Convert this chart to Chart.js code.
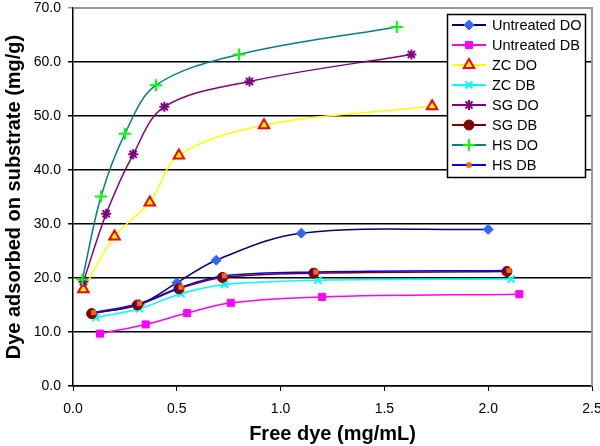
<!DOCTYPE html>
<html>
<head>
<meta charset="utf-8">
<script src="https://cdn.jsdelivr.net/npm/chart.js@4/dist/chart.umd.min.js"></script>
<style>
  html, body { margin: 0; padding: 0; background: #fff; }
  #wrap { width: 600px; height: 446px; }
</style>
</head>
<body>
<div id="wrap"><canvas id="myChart"></canvas></div>
<script>
// series data, [free dye, dye adsorbed]
const untreatedDO = [[0.09, 13.5], [0.32, 15.1], [0.50, 19.1], [0.69, 23.3], [1.10, 28.3], [2.00, 29.0]];
const untreatedDB = [[0.13, 9.7], [0.35, 11.4], [0.55, 13.5], [0.76, 15.4], [1.20, 16.5], [2.15, 17.0]];
const zcDO = [[0.05, 17.9], [0.20, 27.7], [0.37, 34.0], [0.51, 42.7], [0.92, 48.3], [1.73, 51.8]];
const zcDB = [[0.11, 12.7], [0.32, 14.3], [0.52, 17.1], [0.73, 18.8], [1.18, 19.6], [2.11, 19.8]];
const sgDO = [[0.05, 19.3], [0.16, 31.9], [0.29, 42.9], [0.44, 51.7], [0.85, 56.4], [1.63, 61.4]];
const sgDB = [[0.09, 13.4], [0.31, 15.0], [0.51, 18.0], [0.72, 20.1], [1.16, 20.9], [2.09, 21.2]];
const hsDO = [[0.045, 19.7], [0.135, 35.1], [0.25, 46.7], [0.40, 55.7], [0.80, 61.4], [1.56, 66.5]];
const hsDB = [[0.10, 13.6], [0.32, 15.3], [0.52, 18.3], [0.73, 20.4], [1.17, 21.1], [2.10, 21.4]];

const seriesNames = ['Untreated DO', 'Untreated DB', 'ZC DO', 'ZC DB', 'SG DO', 'SG DB', 'HS DO', 'HS DB'];
const seriesData = [untreatedDO, untreatedDB, zcDO, zcDB, sgDO, sgDB, hsDO, hsDB];
const yTicks = [0, 10, 20, 30, 40, 50, 60, 70];

const styles = [
  { line: '#000080', fill: '#3366FF', stroke: '#3366FF', shape: 'rectRot', r: 5 },
  { line: '#FF00FF', fill: '#FF00FF', stroke: '#FF00FF', shape: 'rect', r: 5 },
  { line: '#FFFF00', fill: '#FFFF00', stroke: '#FF0000', shape: 'triangle', r: 6, bw: 2 },
  { line: '#00FFFF', fill: '#00FFFF', stroke: '#00FFFF', shape: 'crossRot', r: 5, bw: 2 },
  { line: '#800080', fill: '#800080', stroke: '#800080', shape: 'star', r: 5, bw: 2 },
  { line: '#800000', fill: '#800000', stroke: '#800000', shape: 'circle', r: 5 },
  { line: '#008080', fill: '#00FF00', stroke: '#00FF00', shape: 'cross', r: 6, bw: 2 },
  { line: '#0000FF', fill: '#FF6600', stroke: '#FF6600', shape: 'rect', r: 3 }
];

const FONT = "'Liberation Sans', Arial, sans-serif";

const datasets = seriesData.map((pts, i) => ({
  label: seriesNames[i],
  data: pts.map(p => ({ x: p[0], y: p[1] })),
  showLine: true,
  borderColor: styles[i].line,
  borderWidth: 1.5,
  tension: 0.35,
  pointStyle: styles[i].shape,
  pointRadius: styles[i].r,
  pointBackgroundColor: styles[i].fill,
  pointBorderColor: styles[i].stroke,
  pointBorderWidth: styles[i].bw || 1,
  order: seriesData.length - i
}));

// gray top and right border of the plot
const frame = {
  id: 'frame',
  beforeDatasetsDraw(chart) {
    const a = chart.chartArea;
    const ctx = chart.ctx;
    ctx.save();
    ctx.strokeStyle = '#999';
    ctx.lineWidth = 2;
    ctx.beginPath();
    ctx.moveTo(a.left, a.top);
    ctx.lineTo(a.right, a.top);
    ctx.lineTo(a.right, a.bottom);
    ctx.stroke();
    ctx.restore();
  }
};

// boxed legend inside the plot
const legendBox = {
  id: 'legendBox',
  afterDraw(chart) {
    const ctx = chart.ctx;
    ctx.save();
    ctx.fillStyle = '#fff';
    ctx.fillRect(447, 14, 138, 164);
    ctx.strokeStyle = '#000';
    ctx.lineWidth = 1.5;
    ctx.strokeRect(447.5, 14.5, 138, 163);
    chart.data.datasets.forEach((ds, i) => {
      const y = 25 + i * 20;
      ctx.strokeStyle = ds.borderColor;
      ctx.lineWidth = 2;
      ctx.beginPath();
      ctx.moveTo(452, y);
      ctx.lineTo(486, y);
      ctx.stroke();
      ctx.fillStyle = ds.pointBackgroundColor;
      ctx.strokeStyle = ds.pointBorderColor;
      ctx.lineWidth = ds.pointBorderWidth;
      Chart.helpers.drawPoint(ctx, {
        pointStyle: ds.pointStyle,
        radius: ds.pointRadius,
        borderWidth: ds.pointBorderWidth,
        rotation: 0
      }, 469, y);
      ctx.fillStyle = '#000';
      ctx.font = '14.5px ' + FONT;
      ctx.textBaseline = 'middle';
      ctx.fillText(ds.label, 492, y + 1);
    });
    ctx.restore();
  }
};

new Chart(document.getElementById('myChart'), {
  type: 'scatter',
  data: { datasets: datasets },
  plugins: [frame, legendBox],
  options: {
    responsive: true,
    maintainAspectRatio: false,
    animation: false,
    layout: { padding: { top: 7, right: 8, left: 0, bottom: 0 } },
    plugins: {
      legend: { display: false },
      tooltip: { enabled: false }
    },
    scales: {
      x: {
        min: 0,
        max: 2.5,
        afterFit: s => { s.height = 60; s.paddingLeft = 0; s.paddingRight = 0; },
        ticks: {
          stepSize: 0.5,
          color: '#000',
          font: { family: FONT, size: 14 },
          padding: 10,
          callback: v => v.toFixed(1)
        },
        grid: { drawOnChartArea: false, color: '#000', tickLength: 5 },
        border: { color: '#000', width: 1.5 },
        title: {
          display: true,
          text: 'Free dye (mg/mL)',
          color: '#000',
          font: { family: FONT, size: 20, weight: 'bold' },
          padding: { top: 0, bottom: 0 }
        }
      },
      y: {
        min: 0,
        max: 70,
        afterFit: s => { s.width = 73; s.paddingTop = 0; s.paddingBottom = 0; },
        afterBuildTicks: s => { s.ticks = yTicks.map(v => ({ value: v })); },
        ticks: {
          color: '#000',
          font: { family: FONT, size: 14 },
          padding: 7,
          callback: v => v.toFixed(1)
        },
        grid: {
          color: c => (c.tick && c.tick.value === 70 ? '#999' : '#000'),
          lineWidth: 1.5,
          tickLength: 5
        },
        border: { color: '#000', width: 1.5 },
        title: {
          display: true,
          text: 'Dye adsorbed on substrate (mg/g)',
          color: '#000',
          font: { family: FONT, size: 20, weight: 'bold' },
          padding: { top: 2, bottom: 0 }
        }
      }
    }
  }
});
</script>
</body>
</html>
